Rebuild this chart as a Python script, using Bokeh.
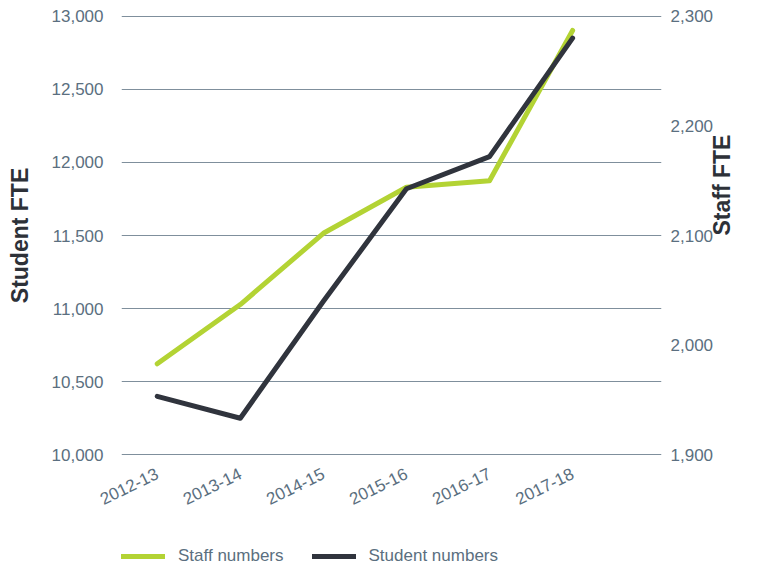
import math
from bokeh.plotting import figure
from bokeh.layouts import column
from bokeh.models import (Range1d, LinearAxis, NumeralTickFormatter, FixedTicker,
                          SingleIntervalTicker, Legend, LegendItem)
from bokeh.embed import file_html
from bokeh.resources import INLINE

years = ["2012-13", "2013-14", "2014-15", "2015-16", "2016-17", "2017-18"]
student_fte = [10400, 10250, 11050, 11820, 12040, 12850]
staff_fte = [1983, 2037, 2102, 2144, 2150, 2287]
series_names = ["Staff numbers", "Student numbers"]

GREEN = "#b3d334"
DARK = "#30343d"
SLATE = "#5b6f80"
FONT = "Liberation Sans"

xs = list(range(len(years)))

p = figure(width=760, height=515, output_backend="svg", toolbar_location=None,
           x_range=Range1d(-0.43, 6.07), y_range=Range1d(9995, 13005),
           min_border_left=121, min_border_right=99, min_border_top=15,
           min_border_bottom=60)
p.outline_line_color = None
p.background_fill_color = "white"
p.border_fill_color = "white"

p.extra_y_ranges = {"staff": Range1d(1900 - 400 * 5 / 3000, 2300 + 400 * 5 / 3000)}

# left axis
ya = p.yaxis[0]
ya.ticker = SingleIntervalTicker(interval=500)
ya.formatter = NumeralTickFormatter(format="0,0")
ya.axis_label = "Student FTE"

# right axis
ra = LinearAxis(y_range_name="staff", ticker=SingleIntervalTicker(interval=100),
                formatter=NumeralTickFormatter(format="0,0"), axis_label="Staff FTE")
p.add_layout(ra, "right")
if "axis_label_orientation" in ra.properties():
    ra.axis_label_orientation = math.pi / 2

for ax in (ya, ra):
    ax.axis_line_color = None
    ax.major_tick_line_color = None
    ax.minor_tick_line_color = None
    ax.major_tick_out = 0
    ax.major_tick_in = 0
    ax.minor_tick_out = 0
    ax.major_label_text_font = FONT
    ax.major_label_text_font_size = "17px"
    ax.major_label_text_color = SLATE
    ax.axis_label_text_font = FONT
    ax.axis_label_text_font_size = "23px"
    ax.axis_label_text_font_style = "bold"
    ax.axis_label_text_color = "#2d3138"
ya.major_label_standoff = 18
ya.axis_label_standoff = 16
ra.major_label_standoff = 9
ra.axis_label_standoff = 6

# x axis
xa = p.xaxis[0]
xa.ticker = FixedTicker(ticks=xs)
xa.major_label_overrides = {i: y for i, y in zip(xs, years)}
xa.major_label_orientation = math.radians(26)
xa.axis_line_color = None
xa.major_tick_line_color = None
xa.minor_tick_line_color = None
xa.major_tick_out = 0
xa.major_tick_in = 0
xa.minor_tick_out = 0
xa.major_label_text_font = FONT
xa.major_label_text_font_size = "17px"
xa.major_label_text_color = SLATE
xa.major_label_standoff = 17

p.xgrid.grid_line_color = None
p.ygrid.grid_line_color = "#7f8f9c"
p.ygrid.grid_line_width = 1

p.line(xs, staff_fte, y_range_name="staff", line_color=GREEN,
       line_width=5, line_cap="round", line_join="round")
p.line(xs, student_fte, line_color=DARK, line_width=5,
       line_cap="round", line_join="round")

# legend strip below the chart (hidden copies of the series supply the swatches)
lg = figure(width=760, height=53, output_backend="svg", toolbar_location=None,
            x_range=Range1d(0, 1), y_range=Range1d(0, 1), min_border=0,
            x_axis_location=None, y_axis_location=None)
lg.outline_line_color = None
lg.grid.grid_line_color = None
l_staff = lg.line(xs, staff_fte, line_color=GREEN, line_width=5,
                  line_cap="round", visible=False)
l_student = lg.line(xs, student_fte, line_color=DARK, line_width=5,
                    line_cap="round", visible=False)

legend = Legend(items=[LegendItem(label=series_names[0], renderers=[l_staff]),
                       LegendItem(label=series_names[1], renderers=[l_student])],
                orientation="horizontal", location=(0, 2),
                border_line_color=None, background_fill_alpha=0,
                padding=0, margin=0, spacing=28, glyph_width=44,
                glyph_height=18, label_height=18,
                label_standoff=13, label_text_font=FONT,
                label_text_font_size="17px", label_text_color=SLATE)
lg.add_layout(legend, "center")

layout = column(p, lg, spacing=0)
open("out.html", "w").write(file_html(layout, INLINE))
